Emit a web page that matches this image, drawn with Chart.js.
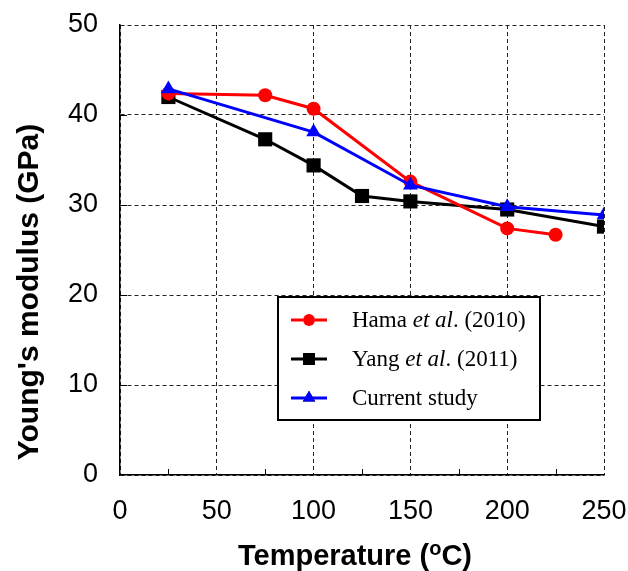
<!DOCTYPE html>
<html>
<head>
<meta charset="utf-8">
<script src="https://cdn.jsdelivr.net/npm/chart.js@4.4.1/dist/chart.umd.min.js"></script>
<style>
  html, body { margin: 0; padding: 0; background: #fff; }
  #wrap { position: relative; width: 628px; height: 571px; }
</style>
</head>
<body>
<div id="wrap"><canvas id="c" width="628" height="571"></canvas></div>
<script>
// ---- Data ----
const hamaTemps   = [25, 75, 100, 150, 200, 225];
const hamaModulus = [42.4, 42.2, 40.7, 32.6, 27.4, 26.7];

const yangTemps   = [25, 75, 100, 125, 150, 200, 250];
const yangModulus = [42.0, 37.3, 34.4, 31.0, 30.4, 29.5, 27.6];

const currentTemps   = [25, 100, 150, 200, 250];
const currentModulus = [42.9, 38.1, 32.2, 29.8, 28.9];

const seriesLabels = ['Hama', 'Yang', 'Current study'];
const xTickValues = [0, 50, 100, 150, 200, 250];
const yTickValues = [0, 10, 20, 30, 40, 50];
const xMinorTicks = [25, 75, 125, 175, 225];
const xAxisTitle = 'Temperature';
const yAxisTitle = "Young's modulus (GPa)";

function pts(xs, ys) { return xs.map((x, i) => ({x: x, y: ys[i]})); }

const SANS = '"Liberation Sans", Arial, sans-serif';
const SERIF = '"Liberation Serif", "Times New Roman", serif';

// Inward minor ticks on axes
const innerTicks = {
  id: 'innerTicks',
  afterDraw(chart) {
    const {ctx, chartArea: a, scales: {x, y}} = chart;
    ctx.save();
    ctx.strokeStyle = '#000';
    ctx.lineWidth = 1;
    ctx.beginPath();
    xMinorTicks.forEach(v => {
      const px = Math.round(x.getPixelForValue(v)) + 0.5;
      ctx.moveTo(px, a.bottom);
      ctx.lineTo(px, a.bottom - 6);
    });
    yTickValues.slice(1, -1).forEach(v => {
      const py = Math.round(y.getPixelForValue(v)) + 0.5;
      ctx.moveTo(a.left, py);
      ctx.lineTo(a.left + 7, py);
    });
    ctx.stroke();
    ctx.restore();
  }
};

// Axis titles (x title has superscript "o")
const axisTitles = {
  id: 'axisTitles',
  afterDraw(chart) {
    const {ctx} = chart;
    ctx.save();
    ctx.fillStyle = '#000';
    ctx.textBaseline = 'alphabetic';
    const big = 'bold 29px ' + SANS;
    const small = 'bold 20px ' + SANS;
    const p1 = xAxisTitle + ' (', p2 = 'o', p3 = 'C)';
    ctx.font = big; const w1 = ctx.measureText(p1).width, w3 = ctx.measureText(p3).width;
    ctx.font = small; const w2 = ctx.measureText(p2).width;
    const total = w1 + w2 + w3;
    const cx = 355;
    let sx = cx - total / 2;
    const by = 565;
    ctx.font = big; ctx.textAlign = 'left';
    ctx.fillText(p1, sx, by);
    ctx.font = small; ctx.fillText(p2, sx + w1, by - 10);
    ctx.font = big; ctx.fillText(p3, sx + w1 + w2, by);
    // y title
    ctx.save();
    ctx.translate(38, 292);
    ctx.rotate(-Math.PI / 2);
    ctx.font = 'bold 30px ' + SANS; ctx.textAlign = 'center';
    ctx.fillText(yAxisTitle, 0, 0);
    ctx.restore();
    ctx.restore();
  }
};

// Custom legend box with italic "et al."
const boxLegend = {
  id: 'boxLegend',
  afterDraw(chart) {
    const {ctx} = chart;
    const L = 278, T = 297, R = 540, B = 420;
    ctx.save();
    ctx.fillStyle = '#fff';
    ctx.fillRect(L, T, R - L, B - T);
    ctx.strokeStyle = '#000';
    ctx.lineWidth = 2;
    ctx.strokeRect(L, T, R - L, B - T);
    const rows = [
      {ds: 0, y: 320, parts: [['Hama ', false], ['et al', true], ['. (2010)', false]]},
      {ds: 1, y: 359, parts: [['Yang ', false], ['et al', true], ['. (2011)', false]]},
      {ds: 2, y: 398, parts: [[seriesLabels[2], false]]}
    ];
    rows.forEach(r => {
      const ds = chart.data.datasets[r.ds];
      ctx.strokeStyle = ds.borderColor;
      ctx.lineWidth = 3;
      ctx.beginPath();
      ctx.moveTo(291, r.y); ctx.lineTo(327, r.y);
      ctx.stroke();
      Chart.helpers.drawPoint(ctx, {pointStyle: ds.pointStyle, radius: ds.pointRadius * 0.85, borderWidth: 0}, 309, r.y);
      ctx.fillStyle = ds.backgroundColor;
      ctx.fill();
      let tx = 352;
      ctx.fillStyle = '#000';
      ctx.textBaseline = 'middle';
      ctx.textAlign = 'left';
      r.parts.forEach(([t, it]) => {
        ctx.font = (it ? 'italic ' : '') + '23px ' + SERIF;
        ctx.fillText(t, tx, r.y + 1);
        tx += ctx.measureText(t).width;
      });
    });
    ctx.restore();
  }
};

new Chart(document.getElementById('c'), {
  type: 'line',
  data: {
    datasets: [
      {label: seriesLabels[0], data: pts(hamaTemps, hamaModulus), borderColor: '#ff0000', backgroundColor: '#ff0000',
       pointStyle: 'circle', pointRadius: 7, pointBorderWidth: 0, borderWidth: 3, order: 1},
      {label: seriesLabels[1], data: pts(yangTemps, yangModulus), borderColor: '#000000', backgroundColor: '#000000',
       pointStyle: 'rect', pointRadius: 10, pointBorderWidth: 0, borderWidth: 3, order: 2},
      {label: seriesLabels[2], data: pts(currentTemps, currentModulus), borderColor: '#0000ff', backgroundColor: '#0000ff',
       pointStyle: 'triangle', pointRadius: 8.5, pointBorderWidth: 0, borderWidth: 3, order: 0}
    ]
  },
  options: {
    responsive: false,
    animation: false,
    layout: {padding: {top: 25, right: 24, left: 0, bottom: 0}},
    plugins: {legend: {display: false}, tooltip: {enabled: false}},
    scales: {
      x: {
        type: 'linear', min: 0, max: 250,
        afterBuildTicks: s => { s.ticks = xTickValues.map(v => ({value: v})); },
        afterFit: s => { s.height = 96; s.paddingLeft = 0; s.paddingRight = 0; },
        ticks: {font: {family: SANS, size: 27}, color: '#000', padding: 20},
        grid: {color: '#222', lineWidth: 1, drawTicks: false},
        border: {display: true, color: '#000', width: 1.5, dash: [4, 3]}
      },
      y: {
        min: 0, max: 50,
        afterBuildTicks: s => { s.ticks = yTickValues.map(v => ({value: v})); },
        afterFit: s => { s.width = 120; s.paddingTop = 0; s.paddingBottom = 0; },
        ticks: {font: {family: SANS, size: 27}, color: '#000', padding: 22},
        grid: {color: '#222', lineWidth: 1, drawTicks: false},
        border: {display: true, color: '#000', width: 1.5, dash: [4, 3]}
      }
    }
  },
  plugins: [innerTicks, axisTitles, boxLegend]
});
</script>
</body>
</html>
